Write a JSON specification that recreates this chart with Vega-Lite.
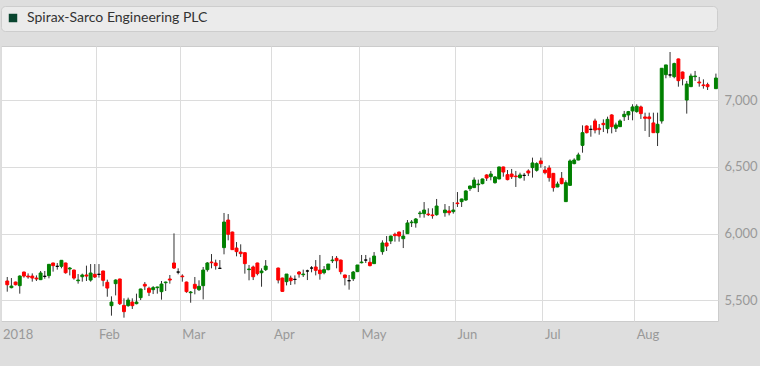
{
  "$schema": "https://vega.github.io/schema/vega-lite/v6.json",
  "background": "#dedede",
  "padding": {"left": 0, "top": 5, "right": 6, "bottom": 30},
  "spacing": 13,
  "config": {
    "view": {"fill": "#ffffff", "stroke": "#cccccc"},
    "font": "Lato"
  },
  "vconcat": [
    {
      "width": 716,
      "height": 25,
      "view": {"fill": "#ebebeb", "stroke": "#cdcdcd", "cornerRadius": 4},
      "data": {"values": [{"s": "Spirax-Sarco Engineering PLC"}]},
      "mark": {"type": "square", "opacity": 0},
      "encoding": {
        "color": {
          "field": "s",
          "type": "nominal",
          "scale": {"range": ["#0a4630"]},
          "legend": {
            "orient": "top-left",
            "offset": 5,
            "padding": 0,
            "title": null,
            "symbolType": "square",
            "symbolSize": 72,
            "symbolOpacity": 1,
            "symbolStrokeWidth": 0,
            "labelFontSize": 14,
            "labelLimit": 500,
            "labelColor": "#333333",
            "labelFont": "Lato",
            "labelOffset": 7
          }
        }
      }
    },
    {
      "width": 717,
      "height": 275,
      "data": {"values": [
        {"d":"2018-01-02","o":5645,"h":5675,"l":5565,"c":5617},
        {"d":"2018-01-03","o":5595,"h":5667,"l":5590,"c":5607},
        {"d":"2018-01-04","o":5637,"h":5640,"l":5612,"c":5617},
        {"d":"2018-01-05","o":5610,"h":5687,"l":5550,"c":5682},
        {"d":"2018-01-08","o":5712,"h":5715,"l":5670,"c":5682},
        {"d":"2018-01-09","o":5682,"h":5702,"l":5662,"c":5675},
        {"d":"2018-01-10","o":5682,"h":5702,"l":5640,"c":5667},
        {"d":"2018-01-11","o":5667,"h":5687,"l":5645,"c":5660},
        {"d":"2018-01-12","o":5655,"h":5720,"l":5652,"c":5705},
        {"d":"2018-01-15","o":5680,"h":5720,"l":5662,"c":5680},
        {"d":"2018-01-16","o":5685,"h":5772,"l":5665,"c":5770},
        {"d":"2018-01-17","o":5780,"h":5782,"l":5715,"c":5760},
        {"d":"2018-01-18","o":5755,"h":5780,"l":5730,"c":5755},
        {"d":"2018-01-19","o":5755,"h":5802,"l":5740,"c":5800},
        {"d":"2018-01-22","o":5780,"h":5782,"l":5700,"c":5707},
        {"d":"2018-01-23","o":5735,"h":5750,"l":5687,"c":5742},
        {"d":"2018-01-24","o":5727,"h":5730,"l":5655,"c":5667},
        {"d":"2018-01-25","o":5647,"h":5697,"l":5625,"c":5652},
        {"d":"2018-01-26","o":5677,"h":5700,"l":5640,"c":5690},
        {"d":"2018-01-29","o":5690,"h":5760,"l":5645,"c":5682},
        {"d":"2018-01-30","o":5652,"h":5772,"l":5640,"c":5705},
        {"d":"2018-01-31","o":5695,"h":5772,"l":5667,"c":5675},
        {"d":"2018-02-01","o":5695,"h":5772,"l":5670,"c":5695},
        {"d":"2018-02-02","o":5720,"h":5722,"l":5605,"c":5650},
        {"d":"2018-02-05","o":5635,"h":5655,"l":5527,"c":5592},
        {"d":"2018-02-06","o":5460,"h":5530,"l":5385,"c":5487},
        {"d":"2018-02-07","o":5625,"h":5657,"l":5537,"c":5652},
        {"d":"2018-02-08","o":5660,"h":5662,"l":5465,"c":5475},
        {"d":"2018-02-09","o":5462,"h":5515,"l":5370,"c":5415},
        {"d":"2018-02-12","o":5460,"h":5520,"l":5452,"c":5502},
        {"d":"2018-02-13","o":5487,"h":5515,"l":5435,"c":5460},
        {"d":"2018-02-14","o":5475,"h":5550,"l":5470,"c":5487},
        {"d":"2018-02-15","o":5520,"h":5587,"l":5502,"c":5585},
        {"d":"2018-02-16","o":5620,"h":5637,"l":5577,"c":5607},
        {"d":"2018-02-19","o":5590,"h":5602,"l":5532,"c":5560},
        {"d":"2018-02-20","o":5580,"h":5607,"l":5547,"c":5595},
        {"d":"2018-02-21","o":5595,"h":5602,"l":5550,"c":5600},
        {"d":"2018-02-22","o":5565,"h":5645,"l":5505,"c":5622},
        {"d":"2018-02-23","o":5632,"h":5640,"l":5570,"c":5637},
        {"d":"2018-02-26","o":5660,"h":5690,"l":5625,"c":5652},
        {"d":"2018-02-27","o":5780,"h":6002,"l":5735,"c":5742},
        {"d":"2018-02-28","o":5712,"h":5740,"l":5695,"c":5712},
        {"d":"2018-03-01","o":5682,"h":5695,"l":5640,"c":5677},
        {"d":"2018-03-02","o":5637,"h":5640,"l":5557,"c":5565},
        {"d":"2018-03-05","o":5557,"h":5570,"l":5482,"c":5562},
        {"d":"2018-03-06","o":5620,"h":5675,"l":5545,"c":5590},
        {"d":"2018-03-07","o":5580,"h":5650,"l":5570,"c":5605},
        {"d":"2018-03-08","o":5610,"h":5750,"l":5507,"c":5727},
        {"d":"2018-03-09","o":5730,"h":5787,"l":5715,"c":5780},
        {"d":"2018-03-12","o":5787,"h":5847,"l":5740,"c":5782},
        {"d":"2018-03-13","o":5780,"h":5805,"l":5730,"c":5760},
        {"d":"2018-03-14","o":5740,"h":5802,"l":5737,"c":5740},
        {"d":"2018-03-15","o":5895,"h":6155,"l":5845,"c":6087},
        {"d":"2018-03-16","o":6102,"h":6147,"l":5950,"c":5995},
        {"d":"2018-03-19","o":6012,"h":6015,"l":5878,"c":5880},
        {"d":"2018-03-20","o":5892,"h":5937,"l":5830,"c":5865},
        {"d":"2018-03-21","o":5862,"h":5920,"l":5825,"c":5850},
        {"d":"2018-03-22","o":5857,"h":5860,"l":5700,"c":5775},
        {"d":"2018-03-23","o":5730,"h":5765,"l":5650,"c":5735},
        {"d":"2018-03-26","o":5750,"h":5760,"l":5652,"c":5677},
        {"d":"2018-03-27","o":5780,"h":5782,"l":5687,"c":5700},
        {"d":"2018-03-28","o":5707,"h":5740,"l":5602,"c":5720},
        {"d":"2018-03-29","o":5730,"h":5802,"l":5720,"c":5757},
        {"d":"2018-04-03","o":5742,"h":5745,"l":5627,"c":5652},
        {"d":"2018-04-04","o":5667,"h":5670,"l":5565,"c":5567},
        {"d":"2018-04-05","o":5640,"h":5697,"l":5612,"c":5697},
        {"d":"2018-04-06","o":5667,"h":5685,"l":5615,"c":5647},
        {"d":"2018-04-09","o":5657,"h":5687,"l":5620,"c":5657},
        {"d":"2018-04-10","o":5712,"h":5720,"l":5670,"c":5697},
        {"d":"2018-04-11","o":5692,"h":5730,"l":5675,"c":5697},
        {"d":"2018-04-12","o":5720,"h":5730,"l":5652,"c":5720},
        {"d":"2018-04-13","o":5742,"h":5757,"l":5710,"c":5742},
        {"d":"2018-04-16","o":5750,"h":5802,"l":5687,"c":5725},
        {"d":"2018-04-17","o":5727,"h":5840,"l":5655,"c":5700},
        {"d":"2018-04-18","o":5707,"h":5757,"l":5695,"c":5730},
        {"d":"2018-04-19","o":5730,"h":5772,"l":5725,"c":5772},
        {"d":"2018-04-20","o":5797,"h":5832,"l":5780,"c":5802},
        {"d":"2018-04-23","o":5815,"h":5832,"l":5740,"c":5797},
        {"d":"2018-04-24","o":5802,"h":5805,"l":5695,"c":5715},
        {"d":"2018-04-25","o":5690,"h":5692,"l":5612,"c":5670},
        {"d":"2018-04-26","o":5647,"h":5690,"l":5580,"c":5647},
        {"d":"2018-04-27","o":5662,"h":5720,"l":5645,"c":5712},
        {"d":"2018-04-30","o":5715,"h":5765,"l":5712,"c":5765},
        {"d":"2018-05-01","o":5782,"h":5840,"l":5777,"c":5787},
        {"d":"2018-05-02","o":5802,"h":5840,"l":5780,"c":5802},
        {"d":"2018-05-03","o":5785,"h":5820,"l":5755,"c":5760},
        {"d":"2018-05-04","o":5775,"h":5862,"l":5775,"c":5832},
        {"d":"2018-05-08","o":5865,"h":5950,"l":5842,"c":5930},
        {"d":"2018-05-09","o":5930,"h":5982,"l":5870,"c":5907},
        {"d":"2018-05-10","o":5945,"h":5985,"l":5922,"c":5982},
        {"d":"2018-05-11","o":5995,"h":6007,"l":5940,"c":5985},
        {"d":"2018-05-14","o":6012,"h":6015,"l":5940,"c":5982},
        {"d":"2018-05-15","o":5962,"h":6027,"l":5892,"c":5982},
        {"d":"2018-05-16","o":6000,"h":6102,"l":5998,"c":6080},
        {"d":"2018-05-17","o":6082,"h":6102,"l":6050,"c":6087},
        {"d":"2018-05-18","o":6080,"h":6117,"l":6045,"c":6110},
        {"d":"2018-05-21","o":6150,"h":6170,"l":6120,"c":6155},
        {"d":"2018-05-22","o":6150,"h":6237,"l":6120,"c":6177},
        {"d":"2018-05-23","o":6147,"h":6190,"l":6132,"c":6142},
        {"d":"2018-05-24","o":6140,"h":6190,"l":6112,"c":6135},
        {"d":"2018-05-25","o":6142,"h":6260,"l":6135,"c":6207},
        {"d":"2018-05-29","o":6157,"h":6222,"l":6127,"c":6177},
        {"d":"2018-05-30","o":6170,"h":6207,"l":6137,"c":6157},
        {"d":"2018-05-31","o":6165,"h":6237,"l":6150,"c":6177},
        {"d":"2018-06-01","o":6230,"h":6312,"l":6200,"c":6225},
        {"d":"2018-06-04","o":6240,"h":6262,"l":6200,"c":6260},
        {"d":"2018-06-05","o":6252,"h":6325,"l":6247,"c":6320},
        {"d":"2018-06-06","o":6337,"h":6360,"l":6320,"c":6357},
        {"d":"2018-06-07","o":6345,"h":6422,"l":6343,"c":6402},
        {"d":"2018-06-08","o":6367,"h":6405,"l":6312,"c":6372},
        {"d":"2018-06-11","o":6375,"h":6412,"l":6370,"c":6410},
        {"d":"2018-06-12","o":6440,"h":6445,"l":6395,"c":6417},
        {"d":"2018-06-13","o":6427,"h":6470,"l":6400,"c":6447},
        {"d":"2018-06-14","o":6382,"h":6432,"l":6375,"c":6425},
        {"d":"2018-06-15","o":6410,"h":6502,"l":6408,"c":6500},
        {"d":"2018-06-18","o":6500,"h":6502,"l":6427,"c":6462},
        {"d":"2018-06-19","o":6442,"h":6477,"l":6400,"c":6405},
        {"d":"2018-06-20","o":6447,"h":6485,"l":6410,"c":6427},
        {"d":"2018-06-21","o":6432,"h":6470,"l":6350,"c":6427},
        {"d":"2018-06-22","o":6420,"h":6457,"l":6412,"c":6440},
        {"d":"2018-06-25","o":6437,"h":6455,"l":6397,"c":6437},
        {"d":"2018-06-26","o":6470,"h":6482,"l":6432,"c":6455},
        {"d":"2018-06-27","o":6495,"h":6570,"l":6420,"c":6530},
        {"d":"2018-06-28","o":6475,"h":6535,"l":6465,"c":6525},
        {"d":"2018-06-29","o":6545,"h":6570,"l":6495,"c":6525},
        {"d":"2018-07-02","o":6477,"h":6507,"l":6445,"c":6457},
        {"d":"2018-07-03","o":6492,"h":6512,"l":6390,"c":6420},
        {"d":"2018-07-04","o":6452,"h":6455,"l":6315,"c":6345},
        {"d":"2018-07-05","o":6350,"h":6390,"l":6348,"c":6372},
        {"d":"2018-07-06","o":6415,"h":6462,"l":6370,"c":6375},
        {"d":"2018-07-09","o":6240,"h":6400,"l":6238,"c":6382},
        {"d":"2018-07-10","o":6362,"h":6557,"l":6360,"c":6545},
        {"d":"2018-07-11","o":6525,"h":6565,"l":6520,"c":6552},
        {"d":"2018-07-12","o":6552,"h":6607,"l":6550,"c":6590},
        {"d":"2018-07-13","o":6662,"h":6812,"l":6607,"c":6757},
        {"d":"2018-07-16","o":6807,"h":6812,"l":6752,"c":6757},
        {"d":"2018-07-17","o":6782,"h":6812,"l":6727,"c":6782},
        {"d":"2018-07-18","o":6845,"h":6862,"l":6752,"c":6777},
        {"d":"2018-07-19","o":6790,"h":6822,"l":6742,"c":6780},
        {"d":"2018-07-20","o":6827,"h":6857,"l":6762,"c":6817},
        {"d":"2018-07-23","o":6787,"h":6877,"l":6752,"c":6857},
        {"d":"2018-07-24","o":6890,"h":6895,"l":6752,"c":6802},
        {"d":"2018-07-25","o":6790,"h":6832,"l":6762,"c":6815},
        {"d":"2018-07-26","o":6802,"h":6857,"l":6800,"c":6845},
        {"d":"2018-07-27","o":6877,"h":6920,"l":6845,"c":6895},
        {"d":"2018-07-30","o":6890,"h":6920,"l":6852,"c":6915},
        {"d":"2018-07-31","o":6920,"h":6970,"l":6850,"c":6950},
        {"d":"2018-08-01","o":6915,"h":6970,"l":6907,"c":6955},
        {"d":"2018-08-02","o":6950,"h":6960,"l":6860,"c":6900},
        {"d":"2018-08-03","o":6875,"h":6907,"l":6770,"c":6865},
        {"d":"2018-08-06","o":6875,"h":6907,"l":6725,"c":6862},
        {"d":"2018-08-07","o":6830,"h":6907,"l":6757,"c":6757},
        {"d":"2018-08-08","o":6757,"h":6907,"l":6657,"c":6820},
        {"d":"2018-08-09","o":6845,"h":7240,"l":6825,"c":7240},
        {"d":"2018-08-10","o":7192,"h":7265,"l":7165,"c":7265},
        {"d":"2018-08-13","o":7190,"h":7362,"l":7170,"c":7190},
        {"d":"2018-08-14","o":7177,"h":7282,"l":7165,"c":7275},
        {"d":"2018-08-15","o":7310,"h":7312,"l":7102,"c":7147},
        {"d":"2018-08-16","o":7212,"h":7215,"l":7112,"c":7162},
        {"d":"2018-08-17","o":7002,"h":7145,"l":6900,"c":7122},
        {"d":"2018-08-20","o":7102,"h":7200,"l":7100,"c":7182},
        {"d":"2018-08-21","o":7177,"h":7220,"l":7145,"c":7182},
        {"d":"2018-08-22","o":7137,"h":7175,"l":7102,"c":7130},
        {"d":"2018-08-23","o":7115,"h":7157,"l":7087,"c":7110},
        {"d":"2018-08-24","o":7117,"h":7132,"l":7077,"c":7102},
        {"d":"2018-08-28","o":7087,"h":7200,"l":7085,"c":7167}
      ]},
      "encoding": {
        "x": {
          "field": "d",
          "type": "ordinal",
          "title": null,
          "scale": {
            "type": "band",
            "paddingInner": 0,
            "paddingOuter": 0,
            "domain": ["2018-01-01","2018-01-02","2018-01-03","2018-01-04","2018-01-05","2018-01-08","2018-01-09","2018-01-10","2018-01-11","2018-01-12","2018-01-15","2018-01-16","2018-01-17","2018-01-18","2018-01-19","2018-01-22","2018-01-23","2018-01-24","2018-01-25","2018-01-26","2018-01-29","2018-01-30","2018-01-31",
              "2018-02-01","2018-02-02","2018-02-05","2018-02-06","2018-02-07","2018-02-08","2018-02-09","2018-02-12","2018-02-13","2018-02-14","2018-02-15","2018-02-16","2018-02-19","2018-02-20","2018-02-21","2018-02-22","2018-02-23","2018-02-26","2018-02-27","2018-02-28",
              "2018-03-01","2018-03-02","2018-03-05","2018-03-06","2018-03-07","2018-03-08","2018-03-09","2018-03-12","2018-03-13","2018-03-14","2018-03-15","2018-03-16","2018-03-19","2018-03-20","2018-03-21","2018-03-22","2018-03-23","2018-03-26","2018-03-27","2018-03-28","2018-03-29","2018-03-30",
              "2018-04-02","2018-04-03","2018-04-04","2018-04-05","2018-04-06","2018-04-09","2018-04-10","2018-04-11","2018-04-12","2018-04-13","2018-04-16","2018-04-17","2018-04-18","2018-04-19","2018-04-20","2018-04-23","2018-04-24","2018-04-25","2018-04-26","2018-04-27","2018-04-30",
              "2018-05-01","2018-05-02","2018-05-03","2018-05-04","2018-05-07","2018-05-08","2018-05-09","2018-05-10","2018-05-11","2018-05-14","2018-05-15","2018-05-16","2018-05-17","2018-05-18","2018-05-21","2018-05-22","2018-05-23","2018-05-24","2018-05-25","2018-05-28","2018-05-29","2018-05-30","2018-05-31",
              "2018-06-01","2018-06-04","2018-06-05","2018-06-06","2018-06-07","2018-06-08","2018-06-11","2018-06-12","2018-06-13","2018-06-14","2018-06-15","2018-06-18","2018-06-19","2018-06-20","2018-06-21","2018-06-22","2018-06-25","2018-06-26","2018-06-27","2018-06-28","2018-06-29",
              "2018-07-02","2018-07-03","2018-07-04","2018-07-05","2018-07-06","2018-07-09","2018-07-10","2018-07-11","2018-07-12","2018-07-13","2018-07-16","2018-07-17","2018-07-18","2018-07-19","2018-07-20","2018-07-23","2018-07-24","2018-07-25","2018-07-26","2018-07-27","2018-07-30","2018-07-31",
              "2018-08-01","2018-08-02","2018-08-03","2018-08-06","2018-08-07","2018-08-08","2018-08-09","2018-08-10","2018-08-13","2018-08-14","2018-08-15","2018-08-16","2018-08-17","2018-08-20","2018-08-21","2018-08-22","2018-08-23","2018-08-24","2018-08-27","2018-08-28"]
          },
          "axis": {
            "values": ["2018-01-01","2018-02-01","2018-03-01","2018-04-02","2018-05-01","2018-06-01","2018-07-02","2018-08-01"],
            "bandPosition": 0,
            "grid": true,
            "gridColor": "#dcdcdc",
            "gridWidth": 1,
            "ticks": false,
            "domain": false,
            "labelAngle": 0,
            "labelAlign": "left",
            "labelBaseline": "top",
            "labelPadding": 7,
            "labelFontSize": 13,
            "labelColor": "#999999",
            "labelFont": "Lato",
            "labelExpr": "datum.value == '2018-01-01' ? '2018' : utcFormat(toDate(datum.value), '%b')"
          }
        }
      },
      "layer": [
        {
          "mark": {"type": "rule", "color": "#333333", "strokeWidth": 1},
          "encoding": {
            "y": {
              "field": "l",
              "type": "quantitative",
              "title": null,
              "scale": {"domain": [5345, 7407], "nice": false, "zero": false},
              "axis": {
                "orient": "right",
                "values": [5500, 6000, 6500, 7000],
                "format": ",.0f",
                "grid": true,
                "gridColor": "#dcdcdc",
                "ticks": false,
                "domain": false,
                "labelPadding": 6,
                "labelFontSize": 13,
                "labelColor": "#999999",
                "labelFont": "Lato"
              }
            },
            "y2": {"field": "h"}
          }
        },
        {
          "mark": {"type": "bar", "width": {"band": 0.7}, "strokeWidth": 1},
          "encoding": {
            "y": {"field": "o", "type": "quantitative"},
            "y2": {"field": "c"},
            "color": {
              "condition": [
                {"test": "datum.c > datum.o", "value": "#008000"},
                {"test": "datum.c < datum.o", "value": "#ff0000"}
              ],
              "value": "#000000"
            },
            "stroke": {
              "condition": [
                {"test": "datum.c > datum.o", "value": "#008000"},
                {"test": "datum.c < datum.o", "value": "#ff0000"}
              ],
              "value": "#000000"
            }
          }
        }
      ]
    }
  ]
}
